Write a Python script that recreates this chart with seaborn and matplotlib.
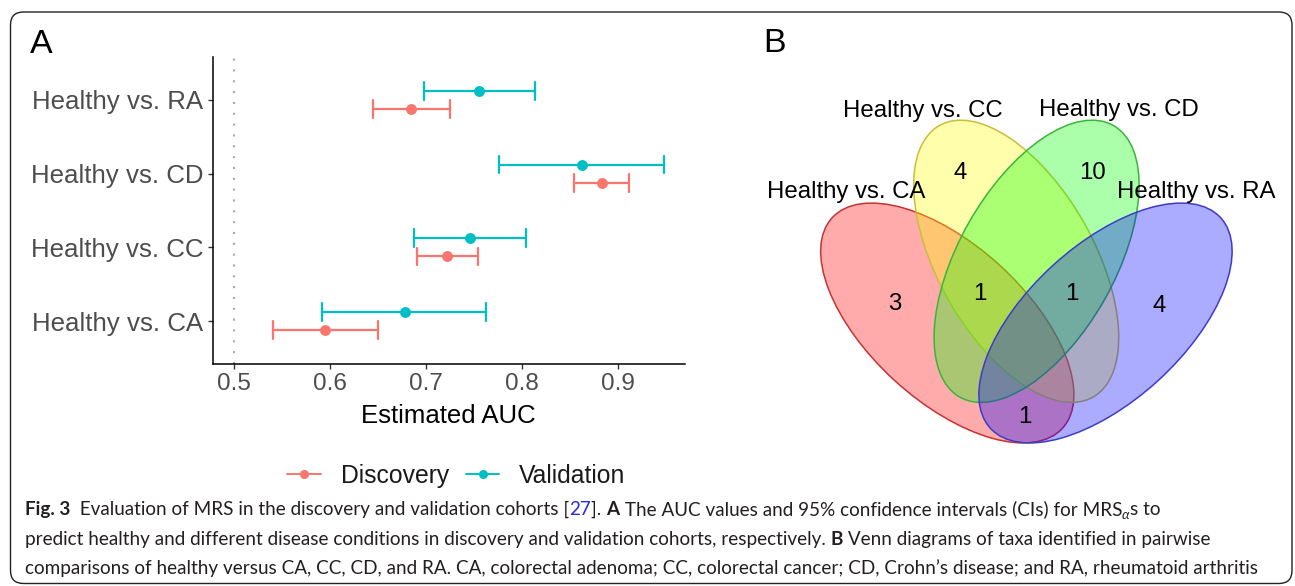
import numpy as np
import pandas as pd
import matplotlib
matplotlib.use("Agg")
import matplotlib.pyplot as plt
import seaborn as sns
from matplotlib.patches import Ellipse, FancyBboxPatch
from matplotlib.lines import Line2D
from matplotlib import font_manager as fm

# ---------------- data ----------------
comparisons = ["Healthy vs. RA", "Healthy vs. CD", "Healthy vs. CC", "Healthy vs. CA"]
cohorts = ["Discovery", "Validation"]
disc_auc = [0.685, 0.884, 0.722, 0.595]
disc_lo = [0.645, 0.855, 0.691, 0.541]
disc_hi = [0.725, 0.912, 0.754, 0.650]
val_auc = [0.756, 0.863, 0.746, 0.678]
val_lo = [0.698, 0.776, 0.688, 0.592]
val_hi = [0.814, 0.948, 0.805, 0.763]
x_ticks = [0.5, 0.6, 0.7, 0.8, 0.9]
ref_line = 0.5

venn_sets = ["Healthy vs. CA", "Healthy vs. CC", "Healthy vs. CD", "Healthy vs. RA"]
venn_regions = ["CA only", "CC only", "CD only", "RA only", "CA&CC&CD", "CC&CD&RA", "CA&RA"]
venn_counts = [3, 4, 10, 4, 1, 1, 1]

# ---------------- style ----------------
sns.set_theme(style="white")
plt.rcParams["font.family"] = ["Liberation Sans", "DejaVu Sans"]

def has_font(name):
    try:
        fm.findfont(fm.FontProperties(family=name), fallback_to_default=False)
        return True
    except Exception:
        return False

cap_font = None
for cand in ["Liberation Sans Narrow", "Lato", "Open Sans"]:
    if has_font(cand):
        cap_font = cand
        break
cap_family = [cap_font, "DejaVu Sans"] if cap_font else ["DejaVu Sans"]

W, H = 1295, 586
fig = plt.figure(figsize=(W / 100, H / 100), dpi=100)
fig.patch.set_facecolor("white")

bg = fig.add_axes([0, 0, 1, 1])
bg.set_xlim(0, W)
bg.set_ylim(H, 0)
bg.axis("off")
bg.set_zorder(0)

# outer rounded frame
bg.add_patch(FancyBboxPatch((10.5, 12), 1281.5, 571.5,
                            boxstyle="round,pad=0,rounding_size=13",
                            fc="none", ec="#222222", lw=1.0))

# ---------------- panel A ----------------
ax = fig.add_axes([212.5 / W, 1 - 364 / H, (685 - 212.5) / W, (364 - 57) / H])
ax.set_zorder(2)
ax.patch.set_alpha(0)

rows = []
for i, comp in enumerate(comparisons):
    for coh, lo, pt, hi in (("Discovery", disc_lo[i], disc_auc[i], disc_hi[i]),
                            ("Validation", val_lo[i], val_auc[i], val_hi[i])):
        for v in (lo, pt, hi):
            rows.append({"comparison": comp, "cohort": coh, "auc": v})
df = pd.DataFrame(rows)

palette = {"Discovery": "#F8766D", "Validation": "#00BFC4"}

ax.axvline(ref_line, color="#A8A8A8", lw=1.5, ls=(0, (1, 4.2)), zorder=0)

sns.pointplot(data=df, x="auc", y="comparison", hue="cohort",
              order=comparisons, hue_order=["Validation", "Discovery"],
              palette=palette, estimator="median",
              errorbar=lambda v: (v.min(), v.max()),
              dodge=0.246, capsize=0.24, linestyle="none", markers="o",
              markersize=5.8, err_kws={"linewidth": 1.6},
              orient="h", ax=ax, legend=False)

ax.set_xlim(0.4776, 0.9704)
ax.set_ylim(3.58, -0.58)
ax.set_xticks(x_ticks)
ax.set_xticklabels([f"{t:.1f}" for t in x_ticks])
sns.despine(ax=ax)
for s in ("left", "bottom"):
    ax.spines[s].set_color("black")
    ax.spines[s].set_linewidth(1.1)
ax.tick_params(axis="both", which="both", bottom=True, left=True, length=3.3,
               width=1.0, color="#333333", labelcolor="#4D4D4D", pad=3.5)
ax.tick_params(axis="x", labelsize=17.5)
ax.tick_params(axis="y", labelsize=18.6)
ax.set_ylabel("")
ax.set_xlabel("Estimated AUC", fontsize=18.5, color="black", labelpad=6)
ax.grid(False)

handles = [Line2D([], [], color=palette[c], marker="o", markersize=5.5, lw=1.4)
           for c in cohorts]
leg = fig.legend(handles, cohorts, loc="center", bbox_to_anchor=(456.5 / W, 1 - 476 / H),
                 ncol=2, frameon=False, fontsize=17.8, handlelength=1.35,
                 handletextpad=0.8, columnspacing=0.7)
for t in leg.get_texts():
    t.set_color("#1A1A1A")

# panel letters
bg.text(30, 52.7, "A", fontsize=24.5, va="baseline", ha="left", color="black")
bg.text(763, 52.5, "B", fontsize=24.5, va="baseline", ha="left", color="black")

# ---------------- panel B: Venn ----------------
ell_layout = [  # (cx, cy, angle) in figure pixels
    (947.3, 323.0, 42.4),
    (1016.2, 261.3, 60.5),
    (1036.6, 261.3, -60.5),
    (1105.5, 323.0, -42.4),
]
ell_fill = [(1, 0, 0, 0.33), (1, 1, 0, 0.33), (0, 1, 0, 0.33), (0, 0, 1, 0.33)]
ell_edge = ["#C83232", "#C8BE3C", "#3CB43C", "#3C3CC8"]
for (cx, cy, ang), fc, ec in zip(ell_layout, ell_fill, ell_edge):
    bg.add_patch(Ellipse((cx, cy), 312, 156, angle=ang, fc=fc, ec=ec, lw=1.1))

set_label_pos = [(846.5, 198.3), (922.5, 116.5), (1119, 116.0), (1196, 198.3)]
for name, (x, y) in zip(venn_sets, set_label_pos):
    bg.text(x, y, name, fontsize=17.3, ha="center", va="baseline", color="black")

count_pos = [(895, 304.3), (960, 172.7), (1092.7, 172.7), (1159, 305.7),
             (980, 294.3), (1071.7, 294.3), (1025, 416.7)]
for n, (x, y) in zip(venn_counts, count_pos):
    bg.text(x, y, str(n), fontsize=17.3, ha="center", va="center", color="black")

# ---------------- caption ----------------
fig.canvas.draw()
renderer = fig.canvas.get_renderer()

def text_width(s, **kw):
    t = bg.text(0, 0, s + "|", **kw)
    w1 = t.get_window_extent(renderer).width
    t.remove()
    t = bg.text(0, 0, "|", **kw)
    w2 = t.get_window_extent(renderer).width
    t.remove()
    return w1 - w2

line3 = ("comparisons of healthy versus CA, CC, CD, and RA. CA, colorectal adenoma; "
         "CC, colorectal cancer; CD, Crohn\u2019s disease; and RA, rheumatoid arthritis")
base = 13.0
w3 = text_width(line3, fontsize=base, family=cap_family)
cs = base * 1228.0 / w3
txt_col = "#231F20"

def run_line(runs, x0, y0):
    x = x0
    for s, kw in runs:
        kw = dict(kw)
        dy = kw.pop("dy", 0)
        size = kw.pop("size", cs)
        kw.setdefault("color", txt_col)
        bg.text(x, y0 + dy, s, fontsize=size, family=cap_family, va="baseline", ha="left", **kw)
        x += text_width(s, fontsize=size, family=cap_family,
                        **{k: v for k, v in kw.items() if k in ("fontweight", "fontstyle")})

B = {"fontweight": "bold"}
N = {}
run_line([("Fig. 3", B), ("  Evaluation of MRS in the discovery and validation cohorts [", N),
          ("27", {"color": "#2B2BD9"}), ("]. ", N), ("A", B),
          (" The AUC values and 95% confidence intervals (CIs) for MRS", N),
          ("\u03b1", {"fontstyle": "italic", "size": cs * 0.72, "dy": 4}),
          ("s to", N)], 25, 515)
run_line([("predict healthy and different disease conditions in discovery and validation cohorts, respectively. ", N),
          ("B", B), (" Venn diagrams of taxa identified in pairwise", N)], 25, 545)
run_line([(line3, N)], 25, 574)

fig.savefig("out.png", dpi=100, facecolor="white")
